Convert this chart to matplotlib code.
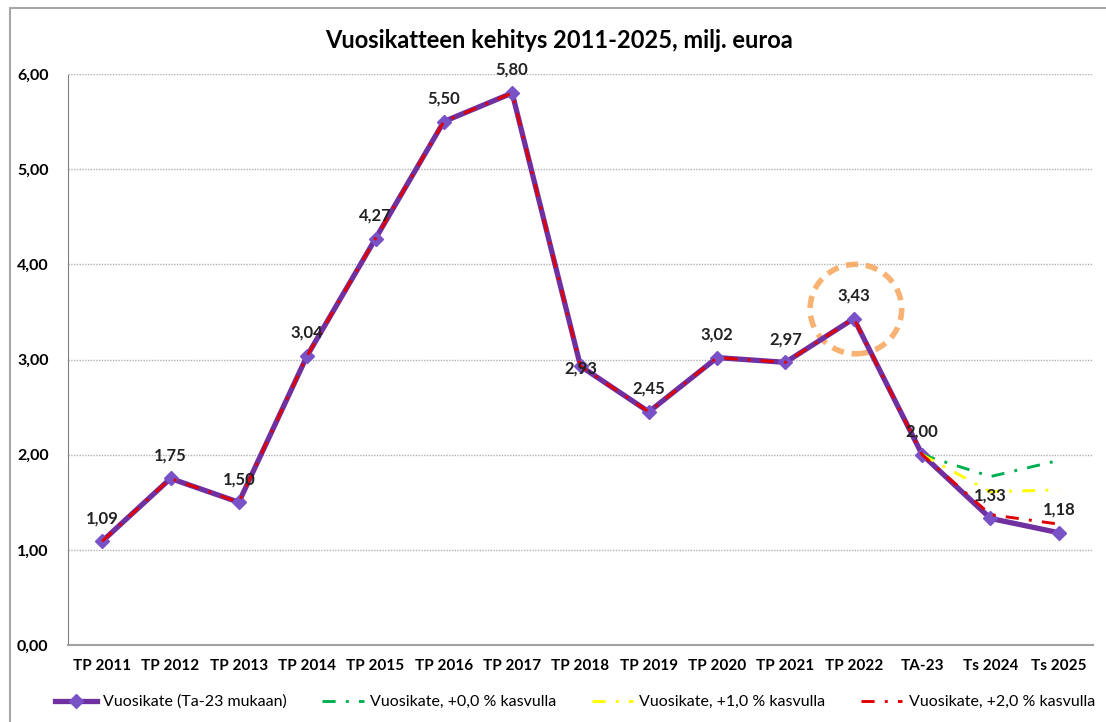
import matplotlib.pyplot as plt
from matplotlib.patches import Ellipse, Rectangle
import numpy as np

plt.rcParams['font.family'] = ['Lato', 'DejaVu Sans']

categories = ['TP 2011', 'TP 2012', 'TP 2013', 'TP 2014', 'TP 2015', 'TP 2016', 'TP 2017',
              'TP 2018', 'TP 2019', 'TP 2020', 'TP 2021', 'TP 2022', 'TA-23', 'Ts 2024', 'Ts 2025']
base = [1.09, 1.75, 1.50, 3.04, 4.27, 5.50, 5.80, 2.93, 2.45, 3.02, 2.97, 3.43, 2.00, 1.33, 1.18]
growth0 = base[:13] + [1.77, 1.94]
growth1 = base[:13] + [1.61, 1.63]
growth2 = base[:13] + [1.37, 1.27]
label_names = ['Vuosikate (Ta-23 mukaan)', 'Vuosikate, +0,0 % kasvulla',
               'Vuosikate, +1,0 % kasvulla', 'Vuosikate, +2,0 % kasvulla']

x = np.arange(len(categories))

fig = plt.figure(figsize=(11.06, 7.22), dpi=100)
fig.patches.append(Rectangle((10 / 1106, -0.1), 1.2, 1 - 8 / 722 + 0.1, transform=fig.transFigure,
                             fill=False, edgecolor='#a6a6a6', linewidth=1.5))
ax = fig.add_axes([68 / 1106, 1 - 645 / 722, (1093 - 68) / 1106, (645 - 74) / 722])

dash = (0, (4.5, 3.5, 1, 3.5))
ax.plot(x, base, color='#7030A0', lw=3.8, marker='D', markersize=7,
        markerfacecolor='#7a52c7', markeredgecolor='#7a52c7', label=label_names[0], zorder=3)
ax.plot(x[12:], growth0[12:], color='#00B050', lw=2.1, linestyle=dash, label=label_names[1], zorder=4)
ax.plot(x[12:], growth1[12:], color='#FFFF00', lw=2.1, linestyle=dash, label=label_names[2], zorder=4)
ax.plot(x, growth2, color='#E00000', lw=2.1, linestyle=dash, label=label_names[3], zorder=5)

# data labels
offsets = {7: -0.02}
for i, v in enumerate(base):
    dy = offsets.get(i, 0.16)
    ax.text(x[i], v + dy, f'{v:.2f}'.replace('.', ','), ha='center', va='bottom' if dy > 0 else 'center',
            fontsize=12, fontweight='bold', color='#222222', zorder=6)

# highlight circle
ax.add_patch(Ellipse((11.03, 3.53), 1.34, 0.94, fill=False, edgecolor='#F7A55A', lw=4,
                     linestyle=(0, (2.2, 1.4)), alpha=0.85, zorder=2))

ax.set_xlim(-0.5, len(categories) - 0.5)
ax.set_ylim(0, 6)
ax.set_xticks(x)
ax.set_xticklabels(categories, fontsize=11, fontweight='bold')
ax.set_yticks(np.arange(0, 7, 1))
ax.set_yticklabels([f'{v:.2f}'.replace('.', ',') for v in range(7)], fontsize=11.5, fontweight='bold')
ax.tick_params(length=0, pad=10)
ax.tick_params(axis='y', pad=14)
ax.grid(axis='y', color='#b0b0b0', linestyle=(0, (1, 1)), lw=1)
for s in ['top', 'right']:
    ax.spines[s].set_visible(False)
ax.spines['bottom'].set_color('#a0a0a0')
ax.spines['bottom'].set_linewidth(1.5)
ax.spines['left'].set_color('#808080')
ax.spines['left'].set_linestyle((0, (1, 1)))
ax.set_axisbelow(True)

fig.text(0.505, 1 - 40 / 722, 'Vuosikatteen kehitys 2011-2025, milj. euroa', ha='center', va='center',
         fontsize=17, fontweight='bold')
fig.legend(loc='center', bbox_to_anchor=(0.52, 1 - 702 / 722), ncol=4, frameon=False, fontsize=11.5,
           handlelength=2.6, columnspacing=2.2, handletextpad=0.4)

fig.savefig('out.png', dpi=100)
